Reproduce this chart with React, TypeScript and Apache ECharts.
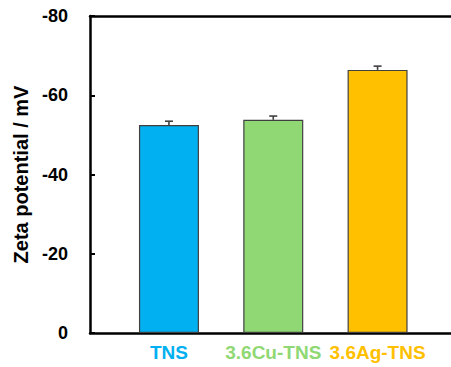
import React, { useEffect, useRef } from "react";
import * as echarts from "echarts";

// Samples and their measured zeta potentials (mV) with standard deviations
const categories = ["TNS", "3.6Cu-TNS", "3.6Ag-TNS"];
const zetaValues = [-52.5, -53.8, -66.4];
const zetaErrors = [0.95, 0.95, 0.95];
const barColors = ["#00B0F0", "#8FD873", "#FFC000"];
const yTicks = [-80, -60, -40, -20, 0];

const FONT = "'Liberation Sans', Arial, sans-serif";
const X_MIN = -0.757;
const X_MAX = 2.704;

export default function App() {
  const ref = useRef<HTMLDivElement>(null);

  useEffect(() => {
    if (!ref.current) return;
    const chart = echarts.init(ref.current, null, { renderer: "svg" });

    const barData = zetaValues.map((v, i) => ({
      value: [i, v],
      itemStyle: { color: barColors[i] },
    }));
    const errData = zetaValues.map((v, i) => [i, v, zetaErrors[i]]);

    const rich: Record<string, any> = {};
    categories.forEach((_, i) => {
      rich["c" + i] = {
        color: barColors[i],
        fontFamily: FONT,
        fontWeight: "bold",
        fontSize: 19,
      };
    });

    chart.setOption({
      animation: false,
      backgroundColor: "#ffffff",
      grid: { left: 90, right: 0, top: 16, bottom: 34 },
      xAxis: [
        {
          type: "value",
          position: "bottom",
          min: X_MIN,
          max: X_MAX,
          splitLine: { show: false },
          axisLine: { show: true, onZero: false, lineStyle: { color: "#000", width: 2.5 } },
          axisTick: { show: false },
          axisLabel: {
            customValues: [0, 1, 2],
            margin: 10,
            formatter: (v: number) => `{c${Math.round(v)}|${categories[Math.round(v)]}}`,
            rich,
          },
        },
        {
          type: "value",
          position: "top",
          min: X_MIN,
          max: X_MAX,
          splitLine: { show: false },
          axisLine: { show: true, onZero: false, lineStyle: { color: "#000", width: 2.5 } },
          axisTick: { show: false },
          axisLabel: { show: false },
        },
      ],
      yAxis: {
        type: "value",
        inverse: true,
        min: yTicks[0],
        max: yTicks[yTicks.length - 1],
        interval: 20,
        name: "Zeta potential / mV",
        nameLocation: "middle",
        nameRotate: 90,
        nameGap: 57,
        nameTextStyle: {
          fontFamily: FONT,
          fontWeight: "bold",
          fontSize: 20,
          color: "#000",
        },
        splitLine: { show: false },
        axisLine: { show: true, onZero: false, lineStyle: { color: "#000", width: 2.5 } },
        axisTick: { show: true, inside: true, length: 5, lineStyle: { color: "#000", width: 2 } },
        axisLabel: {
          margin: 22,
          fontFamily: FONT,
          fontWeight: "bold",
          fontSize: 18,
          color: "#000",
        },
      },
      series: [
        {
          type: "bar",
          xAxisIndex: 0,
          barWidth: 60,
          data: barData,
          itemStyle: { borderColor: "#404040", borderWidth: 1.2 },
        },
        {
          type: "custom",
          xAxisIndex: 0,
          data: errData,
          encode: { x: 0, y: 1 },
          z: 5,
          renderItem: (params: any, api: any) => {
            const x = api.value(0);
            const v = api.value(1);
            const e = api.value(2);
            const p0 = api.coord([x, v]);
            const p1 = api.coord([x, v - e]);
            const style = { stroke: "#404040", lineWidth: 1.6 };
            return {
              type: "group",
              children: [
                { type: "line", shape: { x1: p0[0], y1: p0[1], x2: p1[0], y2: p1[1] }, style },
                { type: "line", shape: { x1: p1[0] - 4, y1: p1[1], x2: p1[0] + 4, y2: p1[1] }, style },
              ],
            };
          },
        },
      ],
    });

    return () => chart.dispose();
  }, []);

  return (
    <div
      ref={ref}
      style={{ position: "absolute", left: 0, top: 0, width: 451, height: 367 }}
    />
  );
}
